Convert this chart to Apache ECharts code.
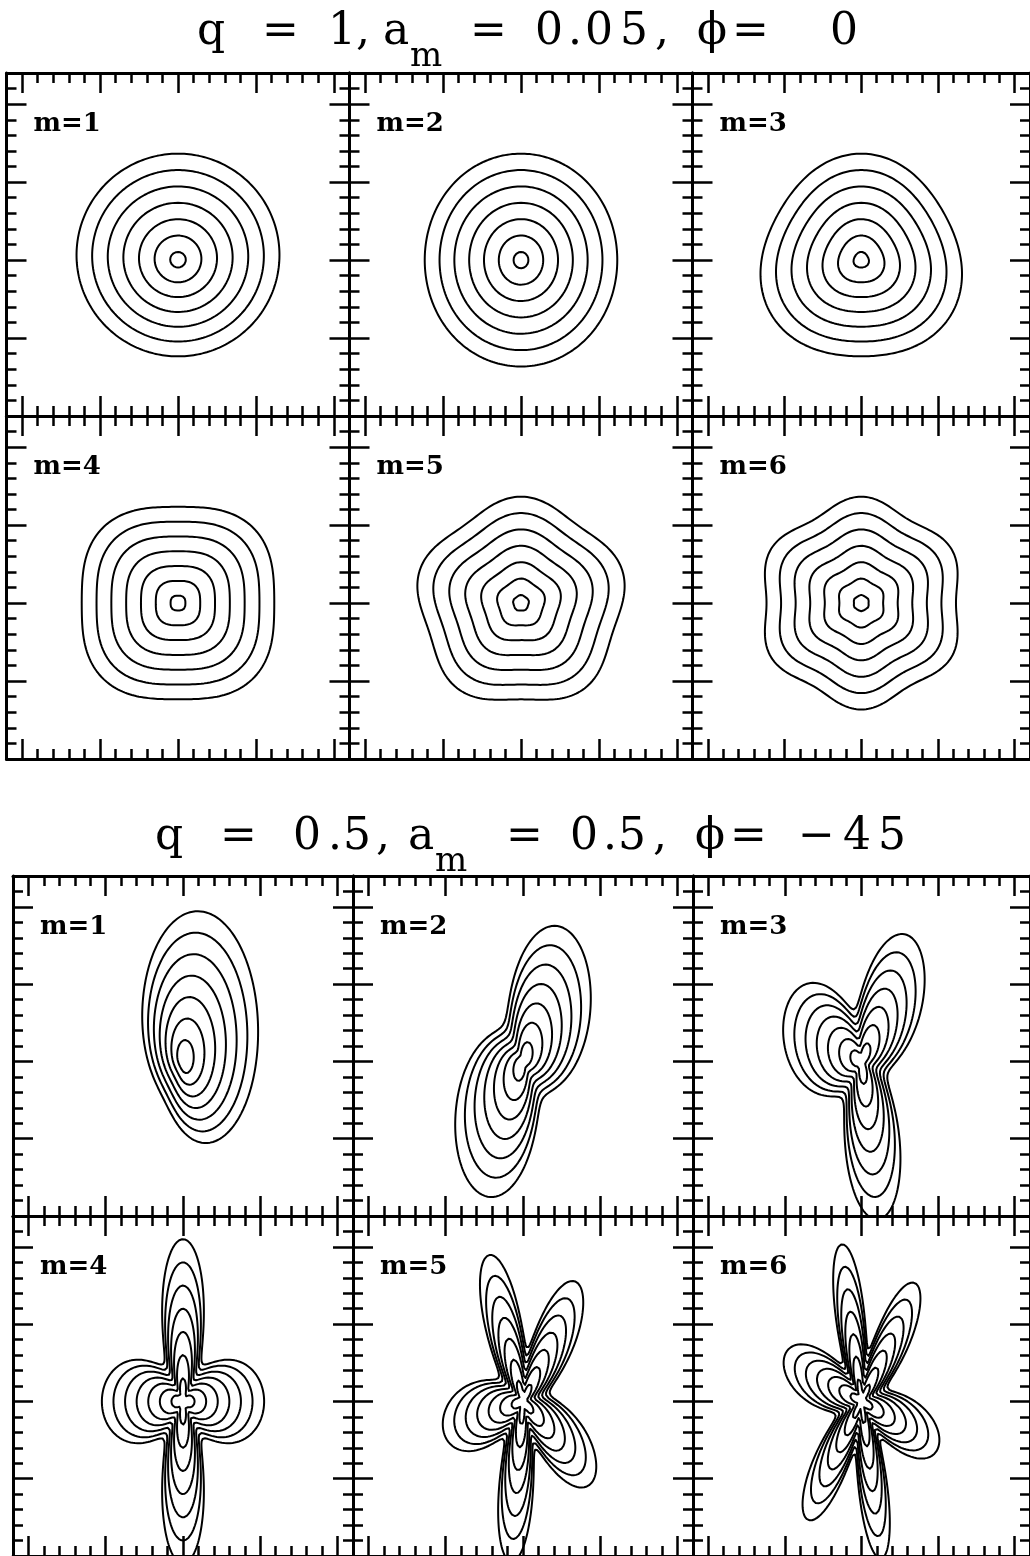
<!DOCTYPE html>
<html><head><meta charset="utf-8">
<script src="https://cdn.jsdelivr.net/npm/echarts@6/dist/echarts.min.js"></script>
<style>html,body{margin:0;padding:0;background:#fff}#c{width:1030px;height:1556px}</style>
</head><body><div id="c"></div>
<script>
// ---- data ----
const modes = [1, 2, 3, 4, 5, 6];
const topQ = 1, topA = 0.05, topPhi = 0;
const botQ = 0.5, botA = 0.5, botPhi = -45;
// contour levels (radius along the unperturbed direction, in major-tick units)
const topLevels = [0.1, 0.3, 0.5, 0.7, 0.9, 1.1, 1.3];
const botLevels = [0.2, 0.4, 0.6, 0.8, 1.0, 1.2, 1.4];
// direction (deg, CCW from +x) of a lobe for each mode when phi = 0, read from the top block
const lobeDirPhi0 = [90, 90, 90, 45, 90, 90];
const majorTicks = [-2, -1, 0, 1, 2];
const xRange = [-2.2, 2.2];
const yRange = [-2.0, 2.4];
// title glyph groups; second entry marks the subscript
const topTitle = [['q'], ['='], ['1,'], ['a'], ['m', 1], ['='], ['0'], ['.'], ['0'], ['5'], [','], ['ϕ'], ['='], ['0']];
const botTitle = [['q'], ['='], ['0'], ['.'], ['5'], [','], ['a'], ['m', 1], ['='], ['0'], ['.'], ['5'], [','], ['ϕ'], ['='], ['−'], ['4'], ['5']];
const panelLabels = ['m=1', 'm=2', 'm=3', 'm=4', 'm=5', 'm=6'];

// ---- layout ----
const topTitleWidths = [65, 66, 55, 27, 60, 65, 33, 17, 35, 35, 42, 35, 98, 40];
const botTitleWidths = [65, 73, 35, 15, 33, 32, 27, 71, 64, 33, 15, 35, 42, 35, 68, 45, 35, 35];
const blocks = [
  {q: topQ, a: topA, phi: topPhi, levels: topLevels, lefts: [6.5, 349.5, 692.5], tops: [73, 416], size: 343},
  {q: botQ, a: botA, phi: botPhi, levels: botLevels, lefts: [13, 353, 693], tops: [876, 1216], size: 340}
];

function steps(lo, hi) { // minor tick values every 0.2
  const out = [];
  for (let k = Math.round(lo * 5); k <= Math.round(hi * 5); k++) out.push(+(k / 5).toFixed(2));
  return out;
}
const minorX = steps(xRange[0], xRange[1]);
const minorY = steps(yRange[0], yRange[1]);

function contour(R, m, q, a, lobeDeg) {
  const pts = [], N = 1080, l = lobeDeg * Math.PI / 180;
  for (let i = 0; i <= N + 12; i++) { // small overlap so the curve closes without a seam
    const t = i / N * 2 * Math.PI;
    const rho = R * (1 + a * Math.cos(m * (t - l)));
    pts.push([q * rho * Math.cos(t), rho * Math.sin(t)]);
  }
  return pts;
}

function mkAxis(gridIndex, position, range, values, len, showLine) {
  return {
    type: 'value', gridIndex, position, min: range[0], max: range[1],
    axisLine: {show: showLine, onZero: false, lineStyle: {color: '#000', width: 3}},
    axisTick: {show: true, inside: true, length: len, customValues: values, lineStyle: {color: '#000', width: 2.5}},
    axisLabel: {show: false}, splitLine: {show: false}, minorTick: {show: false}
  };
}

const grid = [], xAxis = [], yAxis = [], series = [], graphic = [];
let g = 0;
blocks.forEach((b) => {
  modes.forEach((m, idx) => {
    const col = idx % 3, row = Math.floor(idx / 3);
    const left = b.lefts[col], top = b.tops[row];
    grid.push({left, top, width: b.size, height: b.size, containLabel: false});
    xAxis.push(mkAxis(g, 'bottom', xRange, minorX, 10, true));
    xAxis.push(mkAxis(g, 'bottom', xRange, majorTicks, 20, false));
    xAxis.push(mkAxis(g, 'top', xRange, minorX, 10, true));
    xAxis.push(mkAxis(g, 'top', xRange, majorTicks, 20, false));
    yAxis.push(mkAxis(g, 'left', yRange, minorY, 10, true));
    yAxis.push(mkAxis(g, 'left', yRange, majorTicks, 20, false));
    yAxis.push(mkAxis(g, 'right', yRange, minorY, 10, true));
    yAxis.push(mkAxis(g, 'right', yRange, majorTicks, 20, false));
    const lobe = lobeDirPhi0[idx] + b.phi;
    b.levels.forEach((R) => {
      series.push({
        type: 'line', xAxisIndex: 4 * g, yAxisIndex: 4 * g, data: contour(R, m, b.q, b.a, lobe),
        showSymbol: false, symbol: 'none', silent: true, clip: true, animation: false,
        lineStyle: {color: '#000', width: 2, join: 'round', cap: 'round'}
      });
    });
    graphic.push({
      type: 'text', left: left + 27, top: top + 38, silent: true,
      style: {text: panelLabels[idx], font: 'bold 26px "DejaVu Serif"', fill: '#000'}
    });
    g++;
  });
});

function richTitle(tokens, widths, left, top) {
  const rich = {};
  let text = '';
  tokens.forEach((tk, i) => {
    const name = 't' + i;
    const sub = tk[1] === 1;
    rich[name] = {
      fontFamily: 'DejaVu Serif', fontWeight: 'normal', color: '#000',
      fontSize: sub ? 34 : 44, width: widths[i], align: 'left',
      verticalAlign: 'top', lineHeight: 60, padding: sub ? [29, 0, 0, 0] : 0
    };
    text += '{' + name + '|' + tk[0] + '}';
  });
  return {left, top, textAlign: 'left', padding: 0, text, textStyle: {fontWeight: 'normal', rich}};
}

const chart = echarts.init(document.getElementById('c'), null, {renderer: 'canvas', width: 1030, height: 1556});
chart.setOption({
  animation: false,
  backgroundColor: '#fff',
  title: [richTitle(topTitle, topTitleWidths, 197, 11), richTitle(botTitle, botTitleWidths, 155, 816)],
  grid, xAxis, yAxis, series, graphic
});
</script></body></html>
